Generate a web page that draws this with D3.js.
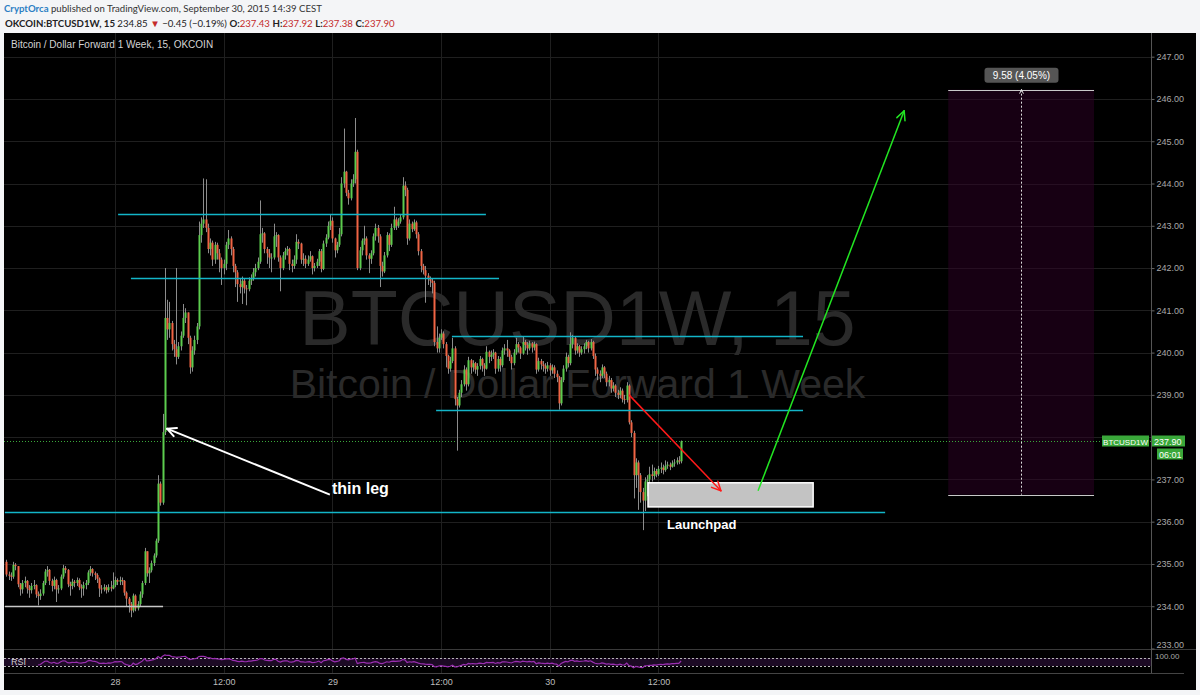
<!DOCTYPE html>
<html>
<head>
<meta charset="utf-8">
<script src="https://cdn.jsdelivr.net/npm/d3@7"></script>
<style>
body { margin: 0; background: #f4f5f7; }
svg { display: block; }
</style>
</head>
<body>
<div id="chart"></div>
<script>
function sep(day, h, m) { return new Date(2015, 8, day, h, m); }
function oct(day, h, m) { return new Date(2015, 9, day, h, m); }

// 15 min candles, first bar Sep 27 2015 12:00 (open of each bar = previous close)
var barStart = sep(27, 12, 0);
var barMinutes = 15;
var firstOpen = 235.05;
var closes = [
234.75,234.72,234.70,234.98,234.95,234.52,234.40,234.55,234.60,234.42,
234.38,234.48,234.50,234.28,234.24,234.30,234.55,234.82,234.86,234.60,
234.48,234.62,234.40,234.42,234.70,234.90,234.86,234.52,234.48,234.58,
234.55,234.62,234.45,234.42,234.50,234.55,234.80,234.88,234.78,234.74,
234.65,234.42,234.40,234.45,234.38,234.45,234.42,234.50,234.62,234.58,
234.62,234.60,234.32,234.18,234.05,233.90,234.25,233.95,234.05,234.28,
234.55,235.30,234.78,234.85,235.02,235.20,235.55,236.90,236.45,238.12,
240.82,240.55,240.70,240.20,240.08,239.90,240.15,240.40,240.82,240.95,
240.35,239.65,240.05,240.30,240.62,242.78,243.05,243.15,242.95,242.45,
242.60,242.20,242.55,242.35,242.20,242.00,242.10,242.55,242.70,242.45,
242.05,241.90,241.62,241.55,241.70,241.52,241.50,241.70,241.75,241.90,
242.00,242.15,242.80,242.82,242.45,242.35,242.25,242.25,242.75,242.78,
242.25,242.00,242.30,242.40,242.45,242.10,242.05,242.20,242.62,242.58,
242.20,242.22,242.10,242.20,242.28,242.00,242.05,242.15,242.40,241.98,
242.58,242.72,243.00,243.12,242.70,242.42,242.55,242.80,244.00,244.28,
243.78,243.65,244.00,244.10,244.75,242.00,242.42,242.65,242.70,242.30,
242.22,242.35,242.75,242.95,242.75,242.05,241.92,242.30,242.78,242.55,
242.95,243.15,243.00,243.10,243.20,243.95,243.85,242.70,243.05,242.92,
243.08,242.80,242.40,242.05,241.95,241.82,241.75,241.70,241.65,240.25,
240.10,240.35,240.45,240.20,239.92,239.62,239.80,240.10,238.90,238.75,
239.05,239.25,239.60,239.25,239.82,239.65,239.75,239.60,239.68,239.85,
239.70,239.62,240.02,239.90,239.95,240.00,239.62,239.85,239.70,240.05,
240.10,240.05,239.90,239.75,240.00,240.20,240.12,239.98,240.25,240.18,
240.10,240.22,240.12,240.20,239.60,239.80,239.72,239.68,239.62,239.70,
239.58,239.65,239.50,239.42,238.80,239.35,239.62,239.90,239.75,240.20,
240.35,240.05,240.15,240.00,240.08,240.15,240.25,240.10,240.25,239.92,
239.60,239.50,239.45,239.65,239.50,239.30,239.35,239.15,239.22,239.05,
239.00,239.10,238.90,238.88,239.22,238.35,238.10,237.10,237.40,237.10,
236.70,236.50,236.95,237.00,237.12,237.08,237.20,237.12,237.25,237.28,
237.22,237.32,237.35,237.30,237.38,237.40,237.45,237.43,237.90
];
var highs = [
235.10,234.82,234.80,235.05,235.02,234.95,234.55,234.62,234.70,234.62,
234.50,234.55,234.62,234.52,234.35,234.40,234.60,234.88,234.95,234.88,
234.65,234.70,234.65,234.50,234.75,234.98,234.95,234.88,234.58,234.65,
234.62,234.68,234.66,234.52,234.58,234.62,234.85,234.95,234.90,234.82,
234.78,234.68,234.50,234.52,234.50,234.52,234.60,234.80,234.70,234.66,
234.70,234.68,234.62,234.35,234.22,234.10,234.30,234.28,234.12,234.35,
234.60,235.38,235.30,234.92,235.08,235.25,235.60,237.10,236.95,238.55,
242.00,241.25,241.20,240.75,240.30,242.00,240.25,240.50,241.15,241.05,
240.95,240.40,240.15,240.40,240.70,243.10,243.20,244.12,244.10,243.05,
242.70,242.65,242.62,242.60,242.45,242.25,242.20,242.62,242.90,242.75,
242.50,242.10,241.95,241.75,241.80,241.75,241.60,241.78,241.85,242.00,
242.10,242.25,243.60,242.95,242.85,242.50,242.45,242.35,243.05,242.85,
242.80,242.30,242.38,242.48,242.52,242.48,242.20,242.30,242.80,242.68,
242.60,242.35,242.30,242.30,242.40,242.30,242.12,242.22,242.45,242.45,
242.65,242.80,243.10,243.28,243.20,242.72,242.62,242.95,244.15,245.30,
244.30,243.85,244.10,244.22,245.55,244.80,242.50,242.70,243.00,242.75,
242.35,242.42,242.82,243.05,243.02,242.80,242.15,242.38,242.85,242.82,
243.05,243.45,243.20,243.18,243.28,244.15,244.05,243.90,243.15,243.10,
243.15,243.12,242.85,242.45,242.10,242.05,241.88,241.80,241.75,241.70,
240.62,240.45,240.55,240.50,240.25,239.95,239.90,240.35,240.15,238.95,
239.12,239.35,239.70,239.65,239.90,239.85,239.82,239.78,239.75,239.92,
239.88,239.75,240.15,240.05,240.05,240.08,240.02,239.92,239.90,240.12,
240.20,240.30,240.08,239.95,240.08,240.35,240.25,240.15,240.38,240.30,
240.25,240.28,240.25,240.26,240.22,239.88,239.85,239.80,239.75,239.78,
239.75,239.72,239.70,239.58,239.45,239.42,239.70,240.00,239.95,240.48,
240.42,240.38,240.22,240.18,240.15,240.22,240.30,240.28,240.32,240.28,
239.98,239.65,239.58,239.72,239.68,239.55,239.45,239.40,239.30,239.25,
239.12,239.18,239.15,239.00,239.30,239.25,238.40,238.15,237.50,237.45,
237.15,236.80,237.05,237.10,237.30,237.35,237.28,237.25,237.32,237.40,
237.35,237.45,237.42,237.40,237.45,237.48,237.52,237.55,237.92
];
var lows = [
234.70,234.62,234.60,234.65,234.85,234.45,234.25,234.30,234.45,234.30,
234.20,234.30,234.40,234.20,234.02,234.15,234.25,234.50,234.70,234.50,
234.35,234.40,234.10,234.30,234.38,234.65,234.78,234.45,234.25,234.40,
234.45,234.48,234.38,234.20,234.25,234.40,234.50,234.72,234.70,234.62,
234.55,234.22,234.30,234.35,234.30,234.33,234.35,234.40,234.45,234.50,
234.50,234.50,234.25,234.00,233.85,233.74,233.85,233.88,233.90,234.00,
234.20,234.50,234.70,234.55,234.80,234.95,235.15,235.50,236.38,236.40,
238.05,240.30,240.35,240.05,239.90,239.72,239.85,240.05,240.35,240.70,
240.20,239.50,239.55,239.95,240.20,240.55,242.60,242.95,242.85,242.35,
242.30,242.05,242.10,242.20,241.90,241.60,241.85,241.95,242.45,242.30,
241.90,241.55,241.20,241.40,241.15,241.40,241.12,241.45,241.60,241.70,
241.80,241.95,242.10,242.60,242.35,242.10,242.00,241.90,242.20,242.50,
242.15,241.45,241.95,242.20,242.30,241.95,241.90,241.98,242.10,242.45,
242.10,242.05,242.00,242.05,242.15,241.85,241.92,242.00,242.05,241.90,
241.95,242.50,242.68,242.90,242.60,242.25,242.35,242.50,242.75,243.90,
243.70,243.50,243.60,243.92,244.00,241.95,241.95,242.30,242.55,242.20,
241.88,242.10,242.30,242.65,242.60,241.55,241.80,241.88,242.25,242.40,
242.50,242.90,242.90,242.95,243.05,243.15,243.70,242.55,242.65,242.85,
242.88,242.70,242.30,241.90,241.85,241.18,241.60,241.55,241.40,240.15,
240.00,240.00,240.30,240.10,239.65,239.50,239.55,239.75,238.75,237.68,
238.70,238.95,239.20,239.10,239.20,239.50,239.55,239.50,239.45,239.60,
239.55,239.45,239.60,239.75,239.80,239.85,239.50,239.55,239.55,239.65,
239.95,239.90,239.80,239.60,239.70,239.95,240.00,239.85,239.95,240.05,
239.95,240.05,240.00,240.05,239.50,239.55,239.60,239.55,239.50,239.55,
239.45,239.50,239.40,239.30,238.65,238.75,239.30,239.55,239.65,239.70,
240.10,239.95,239.98,239.90,239.95,239.98,240.08,240.00,240.05,239.85,
239.45,239.35,239.30,239.40,239.40,239.20,239.20,239.05,239.08,238.95,
238.90,238.92,238.82,238.78,238.82,238.30,238.00,236.55,236.80,236.28,
236.45,235.80,236.25,236.60,236.90,236.95,237.00,237.05,237.08,237.15,
237.12,237.18,237.25,237.22,237.28,237.30,237.35,237.36,237.38
];

// axes
var priceTicks = [233, 234, 235, 236, 237, 238, 239, 240, 241, 242, 243, 244, 245, 246, 247];
var timeTicks = [sep(28, 0, 0), sep(28, 12, 0), sep(29, 0, 0), sep(29, 12, 0), sep(30, 0, 0), sep(30, 12, 0)];
var timeLabels = ["28", "12:00", "29", "12:00", "30", "12:00"];

// drawings: horizontal levels (price, from, to)
var levelPrices = [243.28, 241.77, 240.40, 238.65, 236.24, 234.00];
var levelFrom = [sep(28, 0, 20), sep(28, 1, 45), sep(29, 13, 12), sep(29, 11, 27), sep(27, 11, 50), sep(27, 11, 50)];
var levelTo = [sep(29, 16, 57), sep(29, 18, 24), oct(1, 3, 58), oct(1, 3, 58), oct(1, 13, 2), sep(28, 5, 18)];

// arrows: [time, price] -> [time, price]
var arrowFrom = [[sep(28, 23, 43), 236.64], [sep(30, 8, 45), 239.00], [sep(30, 23, 0), 236.73]];
var arrowTo = [[sep(28, 5, 44), 238.20], [sep(30, 18, 54), 236.73], [oct(1, 15, 8), 245.72]];

var notes = ["thin leg", "Launchpad"];
var noteAt = [[sep(28, 23, 57), 236.66], [sep(30, 12, 57), 235.83]];

var padTime = [sep(30, 10, 51), oct(1, 5, 5)];
var padPrice = [236.92, 236.35];

var rangeTime = [oct(1, 20, 0), oct(2, 12, 6)];
var rangePrice = [236.64, 246.22];

var header1 = ["CryptOrca", " published on TradingView.com, September 30, 2015 14:39 CEST"];
var symbolName = "OKCOIN:BTCUSD1W, 15";
var quote = { last: "234.85", change: "\u22120.45 (\u22120.19%)", o: "237.43", h: "237.92", l: "237.38", c: "237.90" };
var title = "Bitcoin / Dollar Forward 1 Week, 15, OKCOIN";
var countdown = "06:01";

// ---------------- layout
var W = 1200, H = 695;
var paneL = 4, paneR = 1151, paneT = 33, paneB = 649;
var rsiT = 650, rsiB = 673, axisB = 690, frameR = 1196;

var svg = d3.select("#chart").append("svg")
  .attr("width", W).attr("height", H)
  .style("font-family", "'Liberation Sans', Arial, sans-serif");

svg.append("rect").attr("width", W).attr("height", H).attr("fill", "#f4f5f7");
svg.append("rect")
  .attr("x", paneL).attr("y", paneT)
  .attr("width", frameR - paneL).attr("height", axisB - paneT)
  .attr("fill", "#000");

var x = d3.scaleTime()
  .domain([barStart, new Date(barStart.getTime() + 500 * barMinutes * 60000)])
  .range([6.4, 6.4 + 2.264 * 500]);
var y = d3.scaleLinear().domain([233, 247]).range([648.5, 56.7]);
var rsiY = d3.scaleLinear().domain([0, 100]).range([672, 652]);

var bars = closes.map(function(c, i) {
  var o = i === 0 ? firstOpen : closes[i - 1];
  return {
    t: new Date(barStart.getTime() + i * barMinutes * 60000),
    o: o, c: c,
    h: Math.max(highs[i], o, c),
    l: Math.min(lows[i], o, c)
  };
});

// clip for main pane
svg.append("defs").append("clipPath").attr("id", "clip")
  .append("rect")
  .attr("x", paneL).attr("y", paneT)
  .attr("width", paneR - paneL).attr("height", paneB - paneT);

// grid
var grid = svg.append("g");
grid.selectAll("line.h")
  .data(priceTicks)
  .enter().append("line")
  .attr("x1", paneL).attr("x2", paneR)
  .attr("y1", function(d) { return Math.round(y(d)) + 0.5; })
  .attr("y2", function(d) { return Math.round(y(d)) + 0.5; })
  .attr("stroke", "#1f1f1f");
grid.selectAll("line.v")
  .data(timeTicks)
  .enter().append("line")
  .attr("x1", function(d) { return Math.round(x(d)) + 0.5; })
  .attr("x2", function(d) { return Math.round(x(d)) + 0.5; })
  .attr("y1", paneT).attr("y2", rsiB)
  .attr("stroke", "#1f1f1f");

// watermark
var midX = (paneL + paneR) / 2;
svg.append("text")
  .attr("x", midX).attr("y", 345)
  .attr("text-anchor", "middle")
  .attr("font-size", 77)
  .attr("fill", "#2a2a2a")
  .text("BTCUSD1W, 15");
svg.append("text")
  .attr("x", midX).attr("y", 398)
  .attr("text-anchor", "middle")
  .attr("font-size", 41)
  .attr("fill", "#2a2a2a")
  .text("Bitcoin / Dollar Forward 1 Week");

var main = svg.append("g").attr("clip-path", "url(#clip)");

// range (measure) box
var rx0 = x(rangeTime[0]), rx1 = x(rangeTime[1]);
var ry0 = y(rangePrice[1]), ry1 = y(rangePrice[0]);
main.append("rect")
  .attr("x", rx0).attr("y", ry0)
  .attr("width", rx1 - rx0).attr("height", ry1 - ry0)
  .attr("fill", "#2e0026").attr("fill-opacity", 0.5);

// current price line
var lastY = Math.round(y(closes[closes.length - 1])) + 0.5;
main.append("line")
  .attr("x1", paneL).attr("x2", paneR)
  .attr("y1", lastY).attr("y2", lastY)
  .attr("stroke", "#3aa83a")
  .attr("stroke-dasharray", "1,2");

// candles
var candles = main.append("g");
candles.selectAll("line")
  .data(bars)
  .enter().append("line")
  .attr("x1", function(d) { return Math.round(x(d.t)) + 0.5; })
  .attr("x2", function(d) { return Math.round(x(d.t)) + 0.5; })
  .attr("y1", function(d) { return y(d.h); })
  .attr("y2", function(d) { return y(d.l); })
  .attr("stroke", "#8c8c8c");
candles.selectAll("rect")
  .data(bars)
  .enter().append("rect")
  .attr("x", function(d) { return Math.round(x(d.t)) - 0.5; })
  .attr("width", 2)
  .attr("y", function(d) { return y(Math.max(d.o, d.c)); })
  .attr("height", function(d) { return Math.max(1, Math.abs(y(d.o) - y(d.c))); })
  .attr("fill", function(d) { return d.c >= d.o ? "#5ccc4e" : "#f06444"; });

// horizontal levels
main.selectAll("line.level")
  .data(levelPrices)
  .enter().append("line")
  .attr("x1", function(d, i) { return x(levelFrom[i]); })
  .attr("x2", function(d, i) { return x(levelTo[i]); })
  .attr("y1", function(d) { return Math.round(y(d)) + 0.5; })
  .attr("y2", function(d) { return Math.round(y(d)) + 0.5; })
  .attr("stroke", function(d, i) { return i === levelPrices.length - 1 ? "#c8c8c8" : "#13b5c8"; })
  .attr("stroke-width", 1.3);

// launchpad box
main.append("rect")
  .attr("x", x(padTime[0])).attr("y", y(padPrice[0]))
  .attr("width", x(padTime[1]) - x(padTime[0]))
  .attr("height", y(padPrice[1]) - y(padPrice[0]))
  .attr("fill", "#c3c3c3")
  .attr("stroke", "#ffffff").attr("stroke-width", 1.5);

// arrows
var arrowColors = ["#ffffff", "#ff1a1a", "#22e622"];
var arrowWidths = [2, 1.5, 1.5];
function arrowHead(g, x1, y1, x2, y2, len, color, w) {
  var a = Math.atan2(y2 - y1, x2 - x1);
  [-0.45, 0.45].forEach(function(da) {
    g.append("line")
      .attr("x1", x2).attr("y1", y2)
      .attr("x2", x2 - len * Math.cos(a + da))
      .attr("y2", y2 - len * Math.sin(a + da))
      .attr("stroke", color).attr("stroke-width", w)
      .attr("stroke-linecap", "round");
  });
}
arrowFrom.forEach(function(p, i) {
  var x1 = x(p[0]), y1 = y(p[1]);
  var x2 = x(arrowTo[i][0]), y2 = y(arrowTo[i][1]);
  main.append("line")
    .attr("x1", x1).attr("y1", y1).attr("x2", x2).attr("y2", y2)
    .attr("stroke", arrowColors[i]).attr("stroke-width", arrowWidths[i]);
  arrowHead(main, x1, y1, x2, y2, 10, arrowColors[i], arrowWidths[i]);
});

// text notes
main.selectAll("text.note")
  .data(notes)
  .enter().append("text")
  .attr("x", function(d, i) { return x(noteAt[i][0]); })
  .attr("y", function(d, i) { return y(noteAt[i][1]); })
  .attr("font-size", function(d, i) { return i === 0 ? 16 : 13; })
  .attr("font-weight", "bold")
  .attr("fill", "#ffffff")
  .text(function(d) { return d; });

// measure box lines + label
[ry0, ry1].forEach(function(yy) {
  main.append("line")
    .attr("x1", rx0).attr("x2", rx1)
    .attr("y1", Math.round(yy) + 0.5).attr("y2", Math.round(yy) + 0.5)
    .attr("stroke", "#c8c8c8");
});
var rmx = Math.round((rx0 + rx1) / 2) + 0.5;
main.append("line")
  .attr("x1", rmx).attr("x2", rmx)
  .attr("y1", ry0).attr("y2", ry1)
  .attr("stroke", "#e0e0e0")
  .attr("stroke-dasharray", "2,2");
arrowHead(main, rmx, ry1, rmx, ry0, 4, "#e0e0e0", 1);
var diff = rangePrice[1] - rangePrice[0];
var rangeLabel = diff.toFixed(2) + " (" + (diff / rangePrice[0] * 100).toFixed(2) + "%)";
main.append("rect")
  .attr("x", rmx - 37).attr("y", ry0 - 22)
  .attr("width", 74).attr("height", 15).attr("rx", 3)
  .attr("fill", "#555");
main.append("text")
  .attr("x", rmx).attr("y", ry0 - 11)
  .attr("text-anchor", "middle")
  .attr("font-size", 10)
  .attr("fill", "#fff")
  .text(rangeLabel);

// chart title
svg.append("text")
  .attr("x", 11).attr("y", 48)
  .attr("font-size", 10)
  .attr("fill", "#d4d4d4")
  .text(title);

// RSI (14) from closes
var period = 14, avgG = 0, avgL = 0, rsi = [];
for (var i = 1; i < bars.length; i++) {
  var ch = closes[i] - closes[i - 1];
  var g = ch > 0 ? ch : 0, l = ch < 0 ? -ch : 0;
  if (i <= period) {
    avgG += g / period; avgL += l / period;
    if (i === period) rsi.push({ t: bars[i].t, v: 100 - 100 / (1 + avgG / avgL) });
  } else {
    avgG = (avgG * (period - 1) + g) / period;
    avgL = (avgL * (period - 1) + l) / period;
    rsi.push({ t: bars[i].t, v: avgL === 0 ? 100 : 100 - 100 / (1 + avgG / avgL) });
  }
}
svg.append("rect")
  .attr("x", paneL).attr("y", rsiY(70))
  .attr("width", paneR - paneL).attr("height", rsiY(30) - rsiY(70))
  .attr("fill", "#1c0a24");
[70, 30].forEach(function(v) {
  svg.append("line")
    .attr("x1", paneL).attr("x2", paneR)
    .attr("y1", Math.round(rsiY(v)) + 0.5).attr("y2", Math.round(rsiY(v)) + 0.5)
    .attr("stroke", "#b5b5b5").attr("stroke-dasharray", "2,2");
});
svg.append("path")
  .datum(rsi)
  .attr("fill", "none")
  .attr("stroke", "#9a2eb0")
  .attr("stroke-width", 1.2)
  .attr("d", d3.line().x(function(d) { return x(d.t); }).y(function(d) { return rsiY(d.v); }));
svg.append("text")
  .attr("x", 11).attr("y", 665)
  .attr("font-size", 9).attr("fill", "#cfcfcf")
  .text("RSI");

// pane separators
svg.append("line").attr("x1", paneL).attr("x2", frameR).attr("y1", 649.5).attr("y2", 649.5).attr("stroke", "#3a3a3a");
svg.append("line").attr("x1", paneL).attr("x2", paneR + 33).attr("y1", rsiB + 0.5).attr("y2", rsiB + 0.5).attr("stroke", "#444");
svg.append("line").attr("x1", paneR + 0.5).attr("x2", paneR + 0.5).attr("y1", paneT).attr("y2", rsiB).attr("stroke", "#555");

// right price axis
var yAxis = svg.append("g")
  .attr("transform", "translate(" + (paneR + 0.5) + ",0)")
  .call(d3.axisRight(y).tickValues(priceTicks).tickFormat(d3.format(".2f")).tickSize(3).tickPadding(2));
yAxis.select(".domain").remove();
yAxis.selectAll("line").attr("stroke", "#666");
yAxis.selectAll("text").attr("fill", "#a8a8a8").attr("font-size", 9)
  .attr("font-family", "'Liberation Sans', Arial, sans-serif");
// RSI scale top value, sits just under the 233.00 price label
yAxis.selectAll(".tick").filter(function(d) { return d === 233; }).select("text").attr("dy", "-0.1em");
svg.append("text")
  .attr("x", paneR + 4).attr("y", 659)
  .attr("font-size", 8).attr("fill", "#a8a8a8")
  .text("100.00");

// bottom time axis
var xAxis = svg.append("g")
  .attr("transform", "translate(0," + rsiB + ")")
  .call(d3.axisBottom(x).tickValues(timeTicks).tickFormat(function(d, i) { return timeLabels[i]; }).tickSize(0).tickPadding(6));
xAxis.select(".domain").remove();
xAxis.selectAll("text").attr("fill", "#bdbdbd").attr("font-size", 9)
  .attr("font-family", "'Liberation Sans', Arial, sans-serif");

// last price labels (cover the 238.00 tick label like the platform does)
var lastPrice = closes[closes.length - 1];
yAxis.selectAll(".tick").filter(function(d) { return Math.abs(y(d) - lastY) < 8; }).select("text").remove();
svg.append("rect").attr("x", 1102).attr("y", lastY - 6).attr("width", 47).attr("height", 11).attr("fill", "#3aa83a");
svg.append("text").attr("x", 1125.5).attr("y", lastY + 3).attr("text-anchor", "middle")
  .attr("font-size", 8).attr("fill", "#fff").text("BTCUSD1W");
svg.append("rect").attr("x", paneR + 1).attr("y", lastY - 6).attr("width", 33).attr("height", 11).attr("fill", "#3aa83a");
svg.append("text").attr("x", paneR + 3).attr("y", lastY + 3)
  .attr("font-size", 9).attr("fill", "#fff").text(lastPrice.toFixed(2));
svg.append("rect").attr("x", paneR + 6).attr("y", lastY + 7).attr("width", 26).attr("height", 11).attr("fill", "#3aa83a");
svg.append("text").attr("x", paneR + 8).attr("y", lastY + 16)
  .attr("font-size", 9).attr("fill", "#fff").text(countdown);

// header
var h1 = svg.append("text").attr("x", 4).attr("y", 12).attr("font-size", 9.6)
  .attr("font-family", "Lato, 'Open Sans', sans-serif");
h1.append("tspan").attr("fill", "#2c7fc4").attr("font-weight", "bold").text(header1[0]);
h1.append("tspan").attr("fill", "#333").text(header1[1]);

var h2 = svg.append("text").attr("x", 5).attr("y", 27).attr("font-size", 10)
  .attr("font-family", "Lato, 'Open Sans', sans-serif").attr("fill", "#222");
h2.append("tspan").attr("font-weight", "bold").text(symbolName + " ");
h2.append("tspan").text(quote.last + " ");
h2.append("tspan").attr("fill", "#c42b2b").text("\u25BC");
h2.append("tspan").text(" " + quote.change + " ");
[["O:", quote.o], ["H:", quote.h], ["L:", quote.l], ["C:", quote.c]].forEach(function(p) {
  h2.append("tspan").attr("font-weight", "bold").text(p[0]);
  h2.append("tspan").attr("fill", "#c42b2b").text(p[1] + " ");
});
// the quote line runs to about x=393 in the snapshot
var h2w = h2.node().getComputedTextLength();
if (h2w > 0) h2.attr("font-size", Math.min(11, 10 * 390 / h2w));
</script>
</body>
</html>
